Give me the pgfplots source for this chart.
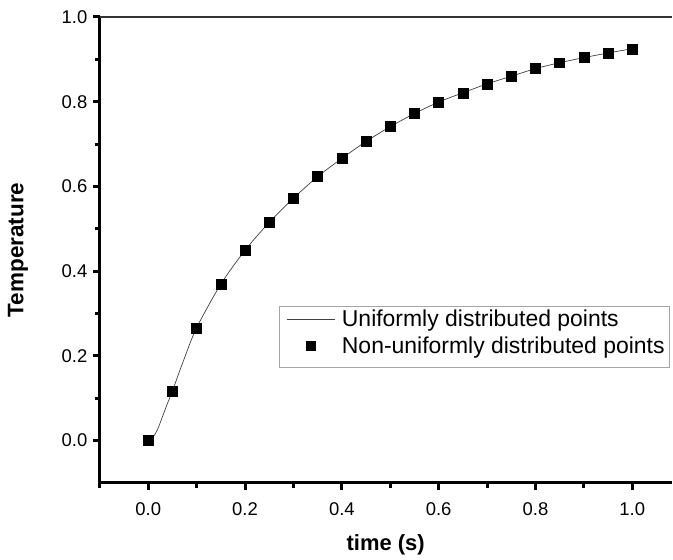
\documentclass[border=0pt]{standalone}
\usepackage{fontspec}
\setmainfont{Liberation Sans}
\usepackage{pgfplots}
\pgfplotsset{compat=1.18}

% curve through the uniformly distributed points
\pgfplotstableread{
t     T
0.000 0.000
0.010 0.008
0.020 0.028
0.030 0.058
0.040 0.088
0.050 0.117
0.075 0.195
0.100 0.266
0.150 0.369
0.200 0.449
0.250 0.515
0.300 0.572
0.350 0.623
0.400 0.666
0.450 0.706
0.500 0.741
0.550 0.772
0.600 0.799
0.650 0.821
0.700 0.842
0.750 0.860
0.800 0.878
0.850 0.892
0.900 0.904
0.950 0.915
1.000 0.925
}\uniform

% square markers, non-uniformly distributed points
\pgfplotstableread{
t    T
0.00 0.000
0.05 0.117
0.10 0.266
0.15 0.369
0.20 0.449
0.25 0.515
0.30 0.572
0.35 0.623
0.40 0.666
0.45 0.706
0.50 0.741
0.55 0.772
0.60 0.799
0.65 0.821
0.70 0.842
0.75 0.860
0.80 0.878
0.85 0.892
0.90 0.904
0.95 0.915
1.00 0.925
}\nonuniform

\begin{document}
\begin{tikzpicture}
  \begin{axis}[
    scale only axis,
    width=573pt, height=467pt,
    xmin=-0.1, xmax=1.081,
    ymin=-0.1, ymax=1.0,
    axis x line*=bottom,
    axis y line*=left,
    axis line style={line width=3pt, -},
    xtick={0,0.2,...,1.0},
    ytick={0,0.2,...,1.0},
    minor xtick={-0.1,0.1,0.3,0.5,0.7,0.9},
    minor ytick={0.1,0.3,0.5,0.7,0.9},
    tick align=outside,
    major tick length=7pt,
    minor tick length=5pt,
    every tick/.style={line width=3pt, black},
    xticklabel style={font=\fontsize{18.5}{20}\selectfont, yshift=-9pt},
    yticklabel style={font=\fontsize{18.5}{20}\selectfont, xshift=-2pt},
    /pgf/number format/assume math mode=true,
    /pgf/number format/.cd, fixed, fixed zerofill, precision=1, /tikz/.cd,
    xlabel={\bfseries time (s)},
    ylabel={\bfseries Temperature},
    xlabel style={font=\fontsize{22}{24}\selectfont,
      at={(axis description cs:0.5,-0.133)}, anchor=center},
    ylabel style={font=\fontsize{22.5}{24}\selectfont,
      at={(axis description cs:-0.143,0.5)}, anchor=center},
    clip=false,
    legend style={
      at={(rel axis cs:0.314,0.379)}, anchor=north west,
      draw=gray!70, line width=0.8pt,
      font=\fontsize{23}{27}\selectfont,
      inner xsep=3pt, inner ysep=1.5pt,
      row sep=5pt,
      legend cell align=left,
    },
    legend image code/.code={
      \path[draw=none, fill=none] (-4pt,0) rectangle (1.7cm+5pt,0);
      \draw[#1] (0cm,0cm) -- (1.7cm,0cm);
    },
  ]
    \addplot[black!75, line width=0.7pt, smooth, no marks] table[x=t, y=T] {\uniform};
    \addlegendentry{Uniformly distributed points}
    \addplot[only marks, mark=square*, mark size=5pt, black,
      legend image code/.code={
        \path[draw=none, fill=none] (-4pt,0) rectangle (1.7cm+5pt,-19.5pt);
        \fill[black] (0.85cm-4.5pt,-4.5pt) rectangle (0.85cm+4.5pt,4.5pt);}]
      table[x=t, y=T] {\nonuniform};
    \addlegendentry{Non-uniformly distributed points}
    \draw[line width=1.2pt, black!80] (rel axis cs:0,1) -- (rel axis cs:1,1);
    % page margins of the reference
    \path (rel axis cs:0,0) ++(-100pt,-77pt);
    \path (rel axis cs:1,1) ++(0pt,17pt);
  \end{axis}
\end{tikzpicture}
\end{document}
